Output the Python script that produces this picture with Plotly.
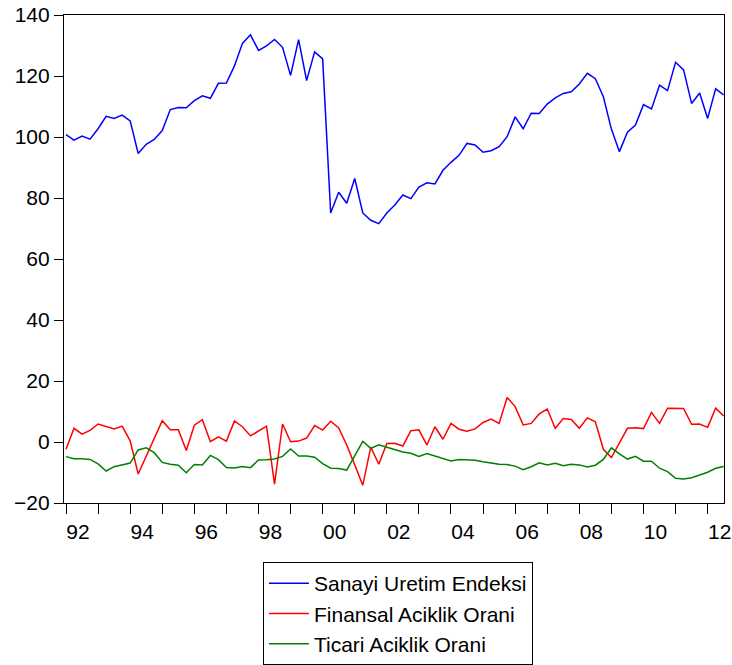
import plotly.graph_objects as go

start_year = 1992
n_quarters = 83  # 1992Q1 .. 2012Q3

sanayi = [100.8, 99.0, 100.3, 99.3, 102.7, 106.8, 106.1, 107.2, 105.3, 94.6,
          97.6, 99.2, 102.1, 109.0, 109.7, 109.6, 111.9, 113.5, 112.7, 117.6,
          117.7, 123.3, 130.7, 133.5, 128.4, 129.9, 132.0, 129.4, 120.2, 131.9,
          118.5, 127.9, 125.6, 75.1, 81.9, 78.3, 86.4, 75.1, 72.7, 71.6,
          75.1, 77.7, 81.0, 79.8, 83.6, 85.0, 84.6, 89.1, 91.7, 94.0,
          97.9, 97.4, 95.0, 95.5, 96.8, 100.1, 106.6, 102.7, 107.8, 107.7,
          110.8, 112.8, 114.3, 114.8, 117.4, 120.9, 119.1, 113.2, 102.6, 95.2,
          101.6, 103.9, 110.6, 109.2, 117.0, 115.2, 124.5, 122.0, 111.0, 114.4,
          106.1, 115.8, 113.8]

finansal = [-2.4, 4.5, 2.6, 3.8, 5.9, 5.1, 4.3, 5.2, 0.4, -10.5,
            -4.8, 1.1, 7.0, 4.0, 4.0, -2.8, 5.5, 7.3, 0.1, 1.7,
            0.3, 6.9, 5.0, 2.0, 3.5, 5.2, -13.8, 5.9, 0.1, 0.3,
            1.3, 5.4, 3.9, 6.8, 4.6, -1.0, -7.5, -14.2, -1.7, -7.3,
            -0.5, -0.4, -1.3, 3.7, 4.0, -1.0, 5.0, 0.9, 6.1, 4.2,
            3.5, 4.3, 6.4, 7.5, 6.1, 14.6, 11.6, 5.6, 6.1, 9.2,
            10.8, 4.5, 7.7, 7.4, 4.5, 7.9, 6.6, -2.4, -5.1, -0.2,
            4.5, 4.7, 4.4, 9.7, 6.1, 11.1, 11.0, 11.0, 5.8, 5.9,
            4.8, 11.1, 8.5]

ticari = [-4.8, -5.5, -5.5, -5.7, -7.2, -9.5, -8.1, -7.5, -6.9, -2.6,
          -1.9, -3.5, -6.7, -7.3, -7.6, -10.1, -7.4, -7.5, -4.4, -5.8,
          -8.4, -8.5, -8.0, -8.4, -5.9, -5.8, -5.6, -4.7, -2.3, -4.6,
          -4.6, -5.0, -7.1, -8.6, -8.7, -9.2, -4.6, 0.2, -2.1, -0.9,
          -1.7, -2.5, -3.3, -3.7, -4.7, -3.8, -4.6, -5.2, -6.2, -5.7,
          -5.9, -6.0, -6.5, -6.9, -7.3, -7.4, -7.9, -9.1, -8.1, -6.8,
          -7.5, -7.0, -7.8, -7.3, -7.5, -8.2, -7.6, -5.7, -1.9, -3.9,
          -5.6, -4.7, -6.3, -6.3, -8.6, -9.7, -11.9, -12.1, -11.7, -10.8,
          -9.9, -8.6, -8.0]

tick_years = list(range(1992, 2013, 2))
tick_labels = ["92", "94", "96", "98", "00", "02", "04", "06", "08", "10", "12"]
y_ticks = [-20, 0, 20, 40, 60, 80, 100, 120, 140]

x = [start_year + i / 4 for i in range(n_quarters)]

series = [
    ("Sanayi Uretim Endeksi", sanayi, "#0000FF"),
    ("Finansal Aciklik Orani", finansal, "#FF0000"),
    ("Ticari Aciklik Orani", ticari, "#008000"),
]

fig = go.Figure()
for name, vals, col in series:
    fig.add_trace(go.Scatter(x=x, y=vals, mode="lines", name=name,
                             line=dict(color=col, width=1.5)))

font_family = "Liberation Sans, Arial, sans-serif"

fig.update_layout(
    width=732, height=665,
    margin=dict(l=64, r=8, t=15, b=162, pad=0, autoexpand=False),
    paper_bgcolor="white", plot_bgcolor="white",
    font=dict(family=font_family, size=21, color="black"),
    showlegend=True,
    legend=dict(
        x=0.506, xanchor="center", y=-0.121, yanchor="top",
        bordercolor="black", borderwidth=1, bgcolor="white",
        font=dict(family=font_family, size=21, color="black"),
        tracegroupgap=0, itemwidth=40,
    ),
)

fig.update_xaxes(
    range=[1991.9376, 2012.51],
    automargin=False,
    tickmode="array", tickvals=tick_years, ticktext=tick_labels,
    ticks="outside", ticklen=10, tickwidth=1, tickcolor="black",
    minor=dict(dtick=1, tick0=1992, ticks="outside", ticklen=10, tickwidth=1, tickcolor="black"),
    ticklabelshift=12, ticklabeloverflow="allow",
    showgrid=False, zeroline=False,
    showline=True, linecolor="black", linewidth=1.2, mirror=True,
    tickfont=dict(size=21),
)

fig.update_yaxes(
    range=[-20, 140],
    automargin=False,
    tickmode="array", tickvals=y_ticks,
    ticks="outside", ticklen=9, tickwidth=1, tickcolor="black",
    ticklabeloverflow="allow",
    showgrid=False, zeroline=False,
    showline=True, linecolor="black", linewidth=1.2, mirror=True,
    tickfont=dict(size=21),
)

fig.write_html(
    "out.html",
    config={"displayModeBar": False},
    post_script="document.body.style.margin='0px';document.body.style.overflow='hidden';",
)
